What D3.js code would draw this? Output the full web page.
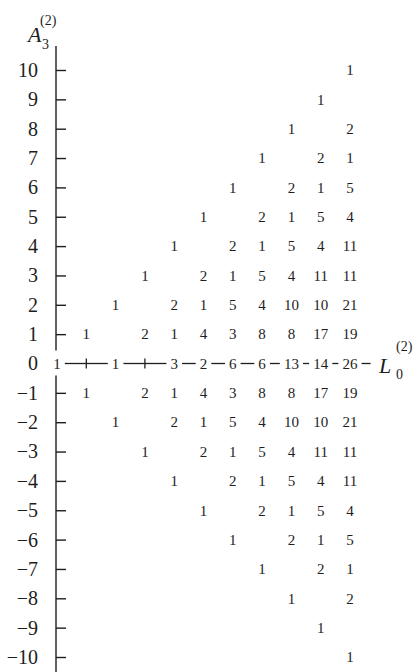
<!DOCTYPE html>
<html>
  <head>
    <meta charset="utf-8">
    <title>A3 vs L0</title>
    <style>
      body{margin:0; background:#fff;}
      svg{display:block; font-family:"Liberation Serif", "DejaVu Serif", serif;}
    </style>
    <script src="https://d3js.org/d3.v7.min.js"></script>
  </head>
  <body>
    <script>

        // columns along L0(2), left to right
        var cols = [0, 1, 2, 3, 4, 5, 6, 7, 8, 9, 10];
        // A3(2) rows, top to bottom
        var yTicks = [10, 9, 8, 7, 6, 5, 4, 3, 2, 1, 0, -1, -2, -3, -4, -5, -6, -7, -8, -9, -10];

        // counts per column for each row (null = empty cell)
        var r10  = [null, null, null, null, null, null, null, null, null, null, 1];
        var r9   = [null, null, null, null, null, null, null, null, null, 1, null];
        var r8   = [null, null, null, null, null, null, null, null, 1, null, 2];
        var r7   = [null, null, null, null, null, null, null, 1, null, 2, 1];
        var r6   = [null, null, null, null, null, null, 1, null, 2, 1, 5];
        var r5   = [null, null, null, null, null, 1, null, 2, 1, 5, 4];
        var r4   = [null, null, null, null, 1, null, 2, 1, 5, 4, 11];
        var r3   = [null, null, null, 1, null, 2, 1, 5, 4, 11, 11];
        var r2   = [null, null, 1, null, 2, 1, 5, 4, 10, 10, 21];
        var r1   = [null, 1, null, 2, 1, 4, 3, 8, 8, 17, 19];
        var r0   = [1, null, 1, null, 3, 2, 6, 6, 13, 14, 26];
        var rm1  = [null, 1, null, 2, 1, 4, 3, 8, 8, 17, 19];
        var rm2  = [null, null, 1, null, 2, 1, 5, 4, 10, 10, 21];
        var rm3  = [null, null, null, 1, null, 2, 1, 5, 4, 11, 11];
        var rm4  = [null, null, null, null, 1, null, 2, 1, 5, 4, 11];
        var rm5  = [null, null, null, null, null, 1, null, 2, 1, 5, 4];
        var rm6  = [null, null, null, null, null, null, 1, null, 2, 1, 5];
        var rm7  = [null, null, null, null, null, null, null, 1, null, 2, 1];
        var rm8  = [null, null, null, null, null, null, null, null, 1, null, 2];
        var rm9  = [null, null, null, null, null, null, null, null, null, 1, null];
        var rm10 = [null, null, null, null, null, null, null, null, null, null, 1];

        var rows = [r10, r9, r8, r7, r6, r5, r4, r3, r2, r1, r0,
                    rm1, rm2, rm3, rm4, rm5, rm6, rm7, rm8, rm9, rm10];

        var width = 417;
        var height = 672;
        var ink = "#1e1e1e";

        var svg = d3.select("body").append("svg")
            .attr("width", width)
            .attr("height", height);

        var x = d3.scaleLinear().domain([0, 10]).range([57, 350]);
        var y = d3.scaleLinear().domain([10, -10]).range([70, 657]);
        var axisX = 56;

        // flatten the grid into cells
        var cells = [];
        rows.forEach(function (row, i) {
            row.forEach(function (v, j) {
                if (v !== null) cells.push({a: yTicks[i], l: cols[j], v: v});
            });
        });

        // vertical axis, broken around the "1" sitting on it at row 0
        svg.append("line")
            .attr("x1", axisX).attr("x2", axisX)
            .attr("y1", 46).attr("y2", y(0) - 13)
            .attr("stroke", ink).attr("stroke-width", 1.4);
        svg.append("line")
            .attr("x1", axisX).attr("x2", axisX)
            .attr("y1", y(0) + 12).attr("y2", height)
            .attr("stroke", ink).attr("stroke-width", 1.4);

        // tick marks pointing right
        var nonZero = yTicks.filter(function (d) { return d !== 0; });
        var tickAxis = svg.append("g")
            .attr("transform", "translate(" + axisX + ",0)")
            .call(d3.axisRight(y).tickValues(nonZero).tickSize(10).tickFormat(""));
        tickAxis.select(".domain").remove();
        tickAxis.selectAll("line").attr("stroke", ink).attr("stroke-width", 1.4);

        // tick labels
        var labelAxis = svg.append("g")
            .attr("transform", "translate(" + axisX + ",0)")
            .call(d3.axisLeft(y).tickValues(yTicks).tickSize(0).tickPadding(18));
        labelAxis.select(".domain").remove();
        labelAxis.selectAll("text")
            .attr("fill", ink)
            .style("font-family", "'Liberation Serif', serif")
            .style("font-size", "20px");

        // horizontal axis along row 0, broken around each number
        var digitW = 7.6;
        function halfGap(v) {
            return v === null ? 0 : String(v).length * digitW / 2 + 4;
        }
        var segs = [];
        for (var j = 0; j < cols.length - 1; j++) {
            segs.push([x(cols[j]) + halfGap(r0[j]), x(cols[j + 1]) - halfGap(r0[j + 1])]);
        }
        var last = cols.length - 1;
        segs.push([x(cols[last]) + halfGap(r0[last]), x(cols[last]) + halfGap(r0[last]) + 9]);

        svg.selectAll(".hseg").data(segs)
            .enter().append("line")
            .attr("class", "hseg")
            .attr("x1", function (d) { return d[0]; })
            .attr("x2", function (d) { return d[1]; })
            .attr("y1", y(0)).attr("y2", y(0))
            .attr("stroke", ink).attr("stroke-width", 1.3);

        // small crossing ticks where row 0 has no value
        var emptyOnAxis = cols.filter(function (c, j) { return r0[j] === null; });
        svg.selectAll(".xtick").data(emptyOnAxis)
            .enter().append("line")
            .attr("class", "xtick")
            .attr("x1", function (d) { return x(d); })
            .attr("x2", function (d) { return x(d); })
            .attr("y1", y(0) - 5).attr("y2", y(0) + 5)
            .attr("stroke", ink).attr("stroke-width", 1.3);

        // the counts
        svg.selectAll(".cell").data(cells)
            .enter().append("text")
            .attr("class", "cell")
            .attr("x", function (d) { return x(d.l); })
            .attr("y", function (d) { return y(d.a); })
            .attr("dy", "0.35em")
            .attr("text-anchor", "middle")
            .attr("fill", ink)
            .style("font-size", "15px")
            .text(function (d) { return d.v; });

        // axis titles
        svg.append("text")
            .attr("x", 28).attr("y", 42)
            .attr("fill", ink)
            .style("font-size", "22px").style("font-style", "italic")
            .text("A");
        svg.append("text")
            .attr("x", 42).attr("y", 49)
            .attr("fill", ink)
            .style("font-size", "14px")
            .text("3");
        svg.append("text")
            .attr("x", 40).attr("y", 25)
            .attr("fill", ink)
            .style("font-size", "14px")
            .text("(2)");

        var ly = y(0);
        svg.append("text")
            .attr("x", 379).attr("y", ly + 9)
            .attr("fill", ink)
            .style("font-size", "22px").style("font-style", "italic")
            .text("L");
        svg.append("text")
            .attr("x", 396).attr("y", ly + 15)
            .attr("fill", ink)
            .style("font-size", "14px")
            .text("0");
        svg.append("text")
            .attr("x", 396).attr("y", ly - 13)
            .attr("fill", ink)
            .style("font-size", "14px")
            .text("(2)");

    </script>
  </body>
</html>
